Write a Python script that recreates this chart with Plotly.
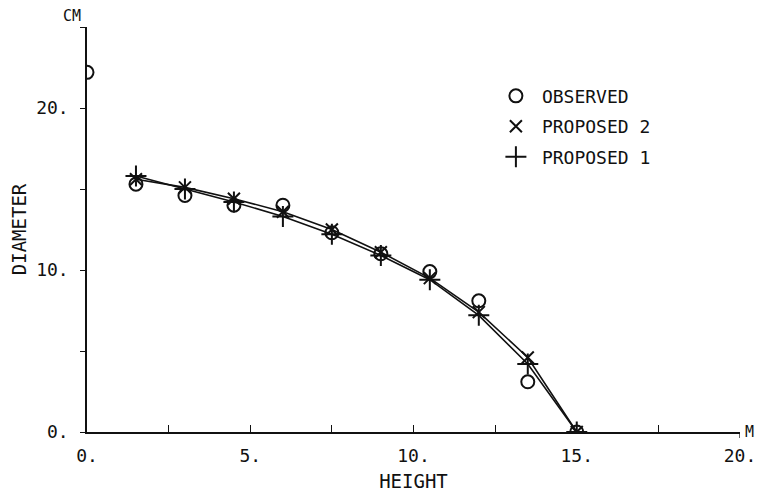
import plotly.graph_objects as go

# Data
obs_x = [0.0, 1.5, 3.0, 4.5, 6.0, 7.5, 9.0, 10.5, 12.0, 13.5, 15.0]
obs_y = [22.2, 15.3, 14.6, 14.0, 14.0, 12.3, 11.0, 9.9, 8.1, 3.1, 0.0]

prop_x = [1.5, 3.0, 4.5, 6.0, 7.5, 9.0, 10.5, 12.0, 13.5, 15.0]
prop2_y = [15.6, 15.1, 14.4, 13.6, 12.5, 11.1, 9.5, 7.4, 4.6, 0.0]
prop1_y = [15.8, 15.0, 14.2, 13.3, 12.2, 10.9, 9.4, 7.2, 4.2, 0.0]

x_tickvals = [0, 2.5, 5, 7.5, 10, 12.5, 15, 17.5, 20]
x_ticktext = ["0.", "", "5.", "", "10.", "", "15.", "", "20."]
y_tickvals = [0, 5, 10, 15, 20, 25]
y_ticktext = ["0.", "", "10.", "", "20.", ""]

FONT = "DejaVu Sans Mono"
INK = "#111111"

fig = go.Figure()

# connecting lines (not in legend)
fig.add_trace(go.Scatter(x=prop_x, y=prop2_y, mode="lines",
                         line=dict(color=INK, width=1.6), showlegend=False, hoverinfo="skip"))
fig.add_trace(go.Scatter(x=prop_x, y=prop1_y, mode="lines",
                         line=dict(color=INK, width=1.6), showlegend=False, hoverinfo="skip"))

# markers (legend entries)
fig.add_trace(go.Scatter(x=obs_x, y=obs_y, mode="markers", name="OBSERVED",
                         legendgroup="a",
                         marker=dict(symbol="circle-open", size=13, color=INK,
                                     line=dict(width=2, color=INK))))
fig.add_trace(go.Scatter(x=prop_x, y=prop2_y, mode="markers", name="PROPOSED 2",
                         legendgroup="b",
                         marker=dict(symbol="x-thin-open", size=12, color=INK,
                                     line=dict(width=2, color=INK))))
fig.add_trace(go.Scatter(x=prop_x, y=prop1_y, mode="markers", name="PROPOSED 1",
                         legendgroup="c",
                         marker=dict(symbol="cross-thin-open", size=15, color=INK,
                                     line=dict(width=2, color=INK))))

fig.update_layout(
    width=756, height=486,
    margin=dict(l=79, r=24, t=19, b=62),
    paper_bgcolor="white", plot_bgcolor="white",
    font=dict(family=FONT, size=18, color=INK),
    showlegend=True,
    legend=dict(x=0.617, y=0.875, xanchor="left", yanchor="top",
                bgcolor="rgba(0,0,0,0)", font=dict(family=FONT, size=18, color=INK),
                tracegroupgap=4, itemwidth=42),
    xaxis=dict(range=[0, 20], tickmode="array", tickvals=x_tickvals, ticktext=x_ticktext,
               ticks="inside", ticklen=7, tickwidth=1.3, tickcolor=INK,
               showline=True, linecolor=INK, linewidth=1.5, showgrid=False, zeroline=False,
               ticklabelstandoff=7, automargin=False,
               title=dict(text="HEIGHT", standoff=9, font=dict(family=FONT, size=19))),
    yaxis=dict(range=[0, 25], tickmode="array", tickvals=y_tickvals, ticktext=y_ticktext,
               ticks="outside", ticklen=5, tickwidth=1.3, tickcolor=INK,
               showline=True, linecolor=INK, linewidth=1.5, showgrid=False, zeroline=False,
               ticklabelstandoff=8, automargin=False,
               title=dict(text="DIAMETER", standoff=12, font=dict(family=FONT, size=19))),
)

# small downward tick at the end of the x axis
fig.add_shape(type="line", xref="x", yref="paper", x0=20, x1=20, y0=0, y1=-0.015,
              line=dict(color=INK, width=1.3))

# unit labels
fig.add_annotation(text="CM", xref="paper", yref="paper", x=-0.006, y=1.0,
                   xanchor="right", yanchor="bottom", showarrow=False,
                   font=dict(family=FONT, size=15, color=INK))
fig.add_annotation(text="M", xref="paper", yref="paper", x=1.004, y=0.0,
                   xanchor="left", yanchor="middle", showarrow=False,
                   font=dict(family=FONT, size=15, color=INK))

fig.write_html("out.html")
